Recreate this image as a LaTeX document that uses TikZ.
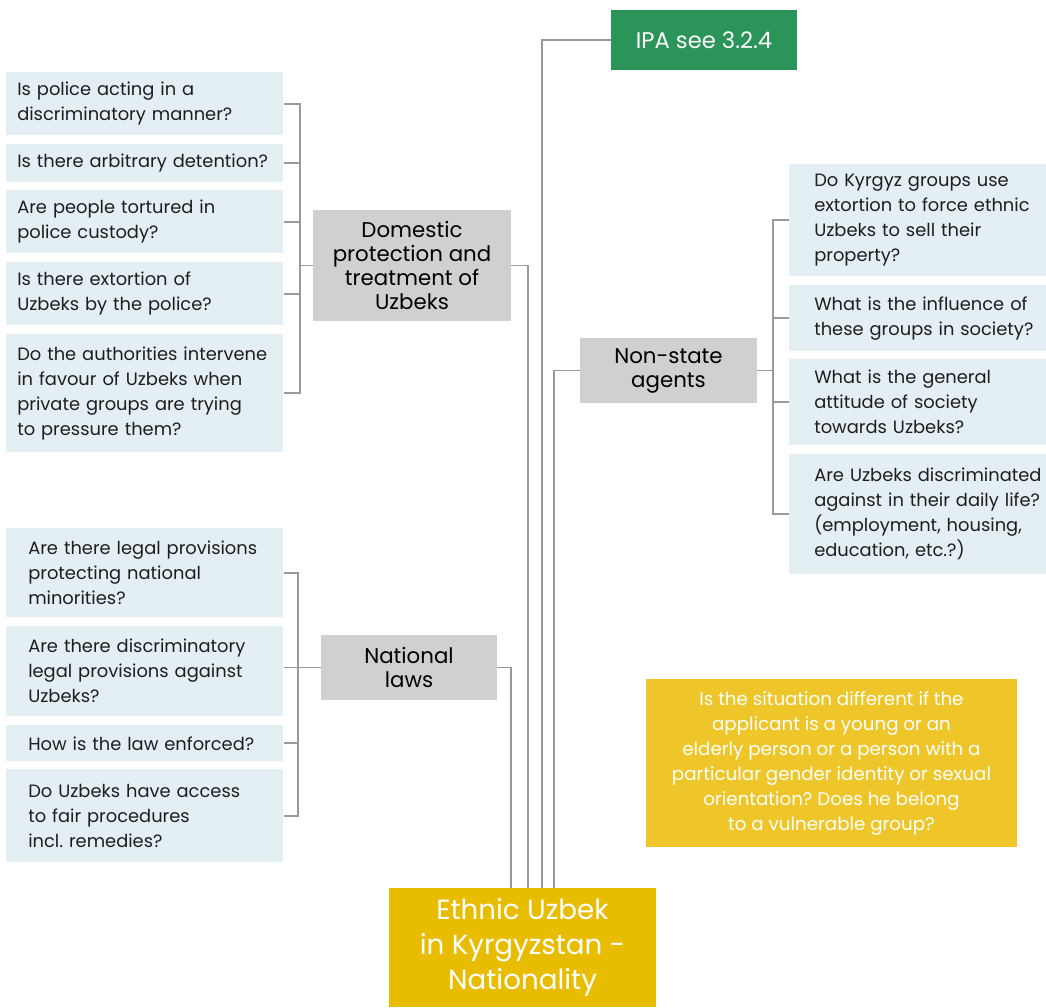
\documentclass[tikz,border=0pt]{standalone}
\usepackage{fontspec}
\setmainfont{Poppins}
\usepackage{xcolor}
\usepackage{tikz}
\usetikzlibrary{positioning}
\frenchspacing
\definecolor{qblue}{HTML}{E4EFF4}
\definecolor{topicgray}{HTML}{D0D0D0}
\definecolor{linegray}{HTML}{9A9A9A}
\definecolor{ipagreen}{HTML}{2A9459}
\definecolor{rootyellow}{HTML}{E8BC00}
\definecolor{noteyellow}{HTML}{EEC62A}
\definecolor{inkdark}{HTML}{1E1E1E}
\tikzstyle{qbox}=[rectangle,fill=qblue,text=inkdark,anchor=north west,align=left,inner ysep=0pt,font=\fontsize{13.4}{18.75}\selectfont]
\tikzstyle{topic}=[rectangle,fill=topicgray,text=black,align=center,inner sep=0pt,font=\fontsize{16}{18}\selectfont]
\tikzstyle{link} = [draw=linegray,line width=1.4pt]
\newcommand{\qline}[1]{\mbox{#1}}

\begin{document}
\begin{tikzpicture}[x=0.75pt,y=-0.75pt]
 \def\px{0.75pt}
 \useasboundingbox (0,0) rectangle (1046,1007);

 %root and main topics
 \node[rectangle,fill=rootyellow,text=white,align=center,inner sep=0pt,minimum width=265*\px,minimum height=119*\px,font=\fontsize{20.8}{26}\selectfont] (root) at (522.5,947.5) {\raisebox{-7pt}{\parbox{200pt}{\centering Ethnic Uzbek\\in Kyrgyzstan -\\Nationality}}};
 \node[rectangle,fill=ipagreen,text=white,inner sep=0pt,minimum width=186*\px,minimum height=60*\px,font=\fontsize{17}{18}\selectfont] (ipa) at (704,40) {IPA see 3.2.4};
 \node[topic,minimum width=198*\px,minimum height=111*\px] (dom) at (412,265.5) {Domestic\\protection and\\treatment of\\Uzbeks};
 \node[topic,minimum width=176*\px,minimum height=65*\px] (nat) at (409,667.5) {National\\laws};
 \node[topic,minimum width=177*\px,minimum height=65*\px] (nsa) at (668.5,370.5) {Non-state\\agents};
 \node[rectangle,fill=noteyellow,text=white,align=center,inner sep=0pt,minimum width=371*\px,minimum height=168*\px,font=\fontsize{13.7}{18.75}\selectfont] (note) at (831.5,763) {Is the situation different if the\\applicant is a young or an\\elderly person or a person with a\\particular gender identity or sexual\\orientation? Does he belong\\to a vulnerable group?};

 \coordinate (r1) at (511,888);
 \coordinate (r2) at (528,888);
 \coordinate (r3) at (542,888);
 \coordinate (r4) at (554,888);

 \draw[link] (nat.east) -| (r1);
 \draw[link] (dom.east) -| (r2);
 \draw[link] (ipa.west) -| (r3);
 \draw[link] (nsa.west) -| (r4);

 %Domestic
 \foreach \y/\h/\name/\label in {72/63/D1/{Is police acting in a\\discriminatory manner?}, 144/38/D2/{Is there arbitrary detention?}, 190/63/D3/{Are people tortured in\\police custody?}, 262/63/D4/{Is there extortion of\\Uzbeks by the police?}, 334/118/D5/{Do the authorities intervene\\in favour of Uzbeks when\\private groups are trying\\to pressure them?}}
   \node[qbox,inner xsep=11*\px,text width=255*\px,minimum height=\h*\px] (\name) at (6,\y) {\label};

 \coordinate (dbar) at (300,0);
 \draw[link] (D1.east) -- (D1.east -| dbar) |- (D5.east);
 \foreach \n in {D2,D3,D4}
   \draw[link] (\n.east) -- (\n.east -| dbar);
 \draw[link] (dom.west) -- (dom.west -| dbar);

 %National laws
 \foreach \y/\h/\name/\label in {528/89/L1/{Are there legal provisions\\protecting national\\minorities?}, 626/90/L2/{Are there discriminatory\\legal provisions against\\Uzbeks?}, 725/36/L3/{How is the law enforced?}, 769/93/L4/{Do Uzbeks have access\\to fair procedures\\incl. remedies?}}
   \node[qbox,inner xsep=22*\px,text width=233*\px,minimum height=\h*\px] (\name) at (6,\y) {\label};

 \coordinate (lbar) at (298,0);
 \draw[link] (L1.east) -- (L1.east -| lbar) |- (L4.east);
 \draw[link] (L3.east) -- (L3.east -| lbar);
 \draw[link] (L2.east |- nat.west) -- (nat.west);

 %Non-state agents
 \foreach \y/\h/\name/\label in {164/112/S1/{\qline{Do Kyrgyz groups use}\\\qline{extortion to force ethnic}\\\qline{Uzbeks to sell their}\\property?}, 285/66/S2/{\qline{What is the influence of}\\\qline{these groups in society?}}, 359/86/S3/{What is the general\\attitude of society\\towards Uzbeks?}, 454/120/S4/{\qline{Are Uzbeks discriminated}\\\qline{against in their daily life?}\\\qline{(employment, housing,}\\\qline{education, etc.?)}}}
   \node[qbox,inner xsep=25*\px,text width=207*\px,minimum height=\h*\px] (\name) at (789,\y) {\label};

 \coordinate (sbar) at (773,0);
 \draw[link] (S1.west) -- (S1.west -| sbar) |- (S4.west);
 \foreach \n in {S2,S3}
   \draw[link] (\n.west) -- (\n.west -| sbar);
 \draw[link] (nsa.east) -- (nsa.east -| sbar);

\end{tikzpicture}
\end{document}
